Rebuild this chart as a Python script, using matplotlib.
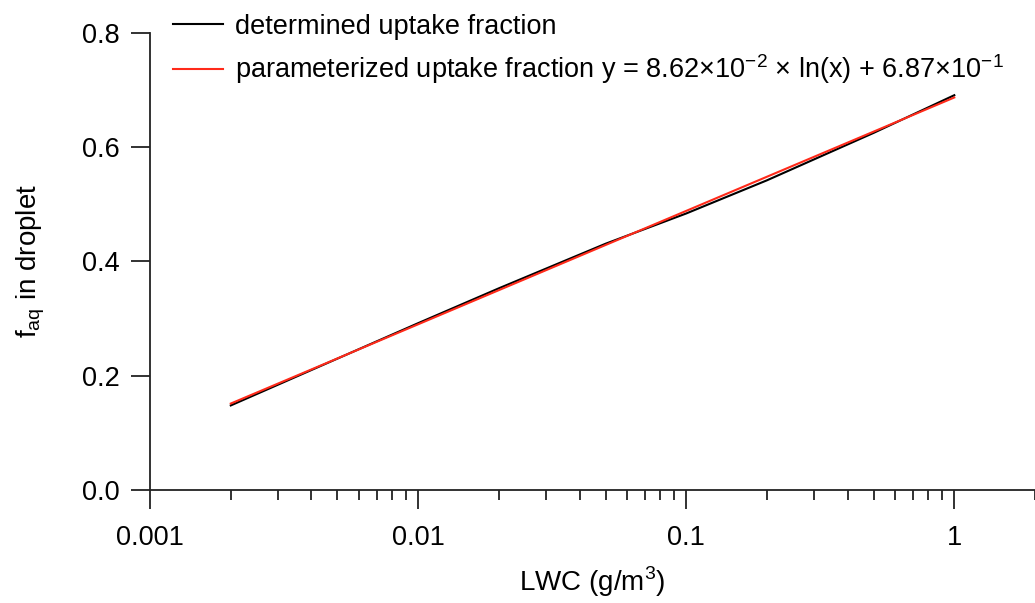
import matplotlib
matplotlib.use("Agg")
import matplotlib.pyplot as plt
import numpy as np

plt.rcParams['font.family'] = ['Liberation Sans', 'DejaVu Sans']

# determined uptake fraction
lwc = [0.002, 0.005, 0.01, 0.02, 0.05, 0.1, 0.2, 0.5, 1.0]
f_det = [0.148, 0.230, 0.292, 0.353, 0.431, 0.484, 0.542, 0.625, 0.691]

# fit coefficients y = a*ln(x) + b
a, b = 8.62e-2, 6.87e-1
x_fit = np.array(lwc)
f_fit = a * np.log(x_fit) + b

fig = plt.figure(figsize=(10.35, 6.03), dpi=100)
ax = fig.add_axes([0.145, 0.1874, 0.855, 0.758])

ax.plot(lwc, f_det, color='black', lw=1.5, label='determined uptake fraction')
ax.plot(x_fit, f_fit, color='#ff2a1a', lw=1.5,
        label=r'parameterized uptake fraction y = 8.62×10$^{\mathregular{-2}}$ × ln(x) + 6.87×10$^{\mathregular{-1}}$')

ax.set_xscale('log')
ax.set_xlim(0.001, 2)
ax.set_ylim(0, 0.8)
ax.set_yticks([0.0, 0.2, 0.4, 0.6, 0.8])
ax.set_yticklabels(['0.0', '0.2', '0.4', '0.6', '0.8'])
ax.set_xticks([0.001, 0.01, 0.1, 1])
ax.set_xticklabels(['0.001', '0.01', '0.1', '1'])

for s in ['top', 'right']:
    ax.spines[s].set_visible(False)
for s in ['left', 'bottom']:
    ax.spines[s].set_linewidth(1.3)
    ax.spines[s].set_color('#222222')

ax.tick_params(which='major', length=14, width=1.3, labelsize=19.5, pad=8, color='#222222')
ax.tick_params(axis='x', which='major', pad=11)
ax.tick_params(axis='x', which='minor', length=7.5, width=1.3, color='#222222')
ax.tick_params(axis='y', which='minor', length=0)

ax.set_xlabel(r'LWC (g/m$^{\mathregular{3}}$)', fontsize=20, labelpad=10)
ax.set_ylabel(r'f$_{\mathregular{aq}}$ in droplet', fontsize=20, labelpad=25)

ax.legend(loc='upper left', bbox_to_anchor=(0.167, 0.977), bbox_transform=fig.transFigure,
          frameon=False, fontsize=19.5, handlelength=1.85, handletextpad=0.45,
          labelspacing=0.47, borderaxespad=0, borderpad=0)

fig.savefig('out.png', dpi=100)
